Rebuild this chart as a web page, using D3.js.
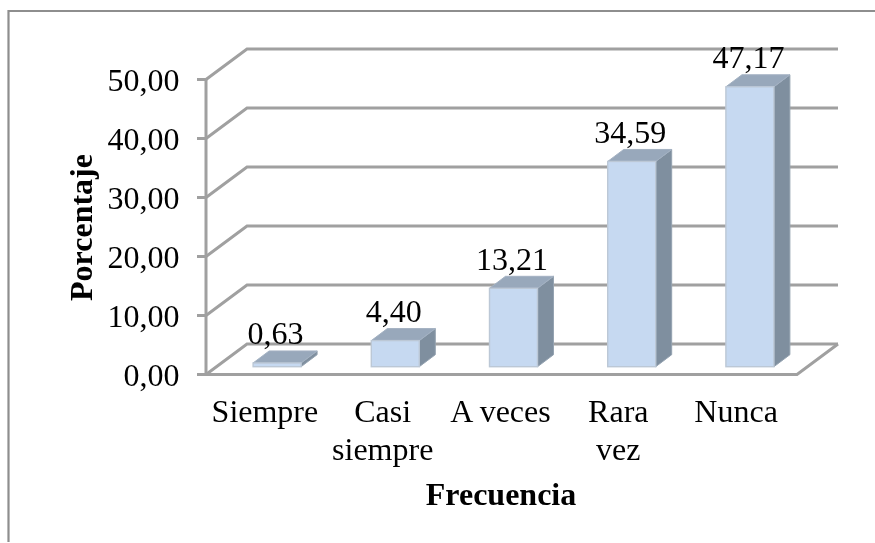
<!DOCTYPE html>
<html><head><meta charset="utf-8">
<script src="https://cdnjs.cloudflare.com/ajax/libs/d3/7.8.5/d3.min.js"></script>
<style>html,body{margin:0;padding:0;background:#fff}svg{display:block;filter:blur(0.35px)}text{font-family:"Liberation Serif",serif;fill:#000}</style>
</head><body><svg id="c" width="875" height="543"></svg>
<script>
const categories = [["Siempre"],["Casi","siempre"],["A veces"],["Rara","vez"],["Nunca"]];
const values = [0.63,4.40,13.21,34.59,47.17];
const dataLabels = ["0,63","4,40","13,21","34,59","47,17"];
const yTicks = [0,10,20,30,40,50];
const yTickLabels = ["0,00","10,00","20,00","30,00","40,00","50,00"];
const yTitle = "Porcentaje";
const xTitle = "Frecuencia";

const svg = d3.select("#c");
const fs = 32;
const wallDx = 41, wallDy = 30.5;
const barDx = 16, barDy = 12, barW = 48, barShift = 12;
const grid = "#a0a0a0";

const x = d3.scaleBand().domain(d3.range(categories.length)).range([206,797]);
const xLabel = d3.scaleBand().domain(d3.range(categories.length)).range([206,795]);
const y = d3.scaleLinear().domain([0,50]).range([374.5,79.5]);
const yBar = d3.scaleLinear().domain([0,50]).range([366.7,70]);

// outer frame
svg.append("path").attr("d","M880,11H8.5V542").attr("fill","none").attr("stroke","#8e8e8e").attr("stroke-width",2.2);

// walls and gridlines
const g = svg.append("g").attr("fill","none").attr("stroke",grid).attr("stroke-width",3).attr("stroke-linejoin","miter");
g.selectAll("path.grid").data(yTicks).join("path").attr("class","grid")
  .attr("d",d=>d3.line()([[x.range()[0],y(d)],[x.range()[0]+wallDx,y(d)-wallDy],[x.range()[1]+wallDx,y(d)-wallDy]]));
g.append("path").attr("d",d3.line()([[x.range()[0],y(0)],[x.range()[1],y(0)],[x.range()[1]+wallDx,y(0)-wallDy]]));
g.append("path").attr("d",d3.line()([[x.range()[0],y(50)],[x.range()[0],y(0)]]));
g.selectAll("line.tick").data(yTicks).join("line").attr("class","tick")
  .attr("x1",x.range()[0]-9).attr("x2",x.range()[0]).attr("y1",d=>y(d)).attr("y2",d=>y(d));

// bars
const bars = svg.selectAll("g.bar").data(values).join("g").attr("class","bar");
const left = i => x(i)+x.bandwidth()/2+barShift-barW/2;
bars.append("path").attr("fill","#7f8f9f").attr("stroke","#95a3b1").attr("stroke-width",1)
  .attr("d",(d,i)=>{const l=left(i)+barW,t=yBar(d),b=yBar(0);return d3.line()([[l,t],[l+barDx,t-barDy],[l+barDx,b-barDy],[l,b]])+"Z";});
bars.append("path").attr("fill","#98a8bb").attr("stroke","#a3b1c2").attr("stroke-width",1)
  .attr("d",(d,i)=>{const l=left(i),t=yBar(d);return d3.line()([[l,t],[l+barDx,t-barDy],[l+barW+barDx,t-barDy],[l+barW,t]])+"Z";});
bars.append("rect").attr("fill","#c6d9f1").attr("stroke","#bcc8d6").attr("stroke-width",1.4)
  .attr("x",(d,i)=>left(i)).attr("y",d=>yBar(d)).attr("width",barW).attr("height",d=>yBar(0)-yBar(d));

// data labels
bars.append("text").attr("font-size",fs).attr("text-anchor","middle")
  .attr("x",(d,i)=>left(i)+barW/2-1.5).attr("y",d=>yBar(d)-18.5).text((d,i)=>dataLabels[i]);

// y tick labels
svg.selectAll("text.yl").data(yTicks).join("text").attr("class","yl").attr("font-size",fs)
  .attr("text-anchor","end").attr("x",179.5).attr("y",d=>y(d)+11).text((d,i)=>yTickLabels[i]);

// category labels
const cats = svg.selectAll("text.cat").data(categories).join("text").attr("class","cat")
  .attr("font-size",fs).attr("text-anchor","middle");
cats.selectAll("tspan").data((d,i)=>d.map((s,j)=>({s,j,i}))).join("tspan")
  .attr("x",d=>xLabel(d.i)+xLabel.bandwidth()/2).attr("y",d=>421.7+d.j*38.3).text(d=>d.s);

// axis titles
svg.append("text").attr("font-size",fs).attr("font-weight","bold").attr("text-anchor","middle")
  .attr("x",501).attr("y",505).text(xTitle);
svg.append("text").attr("font-size",fs).attr("font-weight","bold").attr("text-anchor","middle")
  .attr("transform","translate(91.7,227.5) rotate(-90)").text(yTitle);
</script></body></html>
